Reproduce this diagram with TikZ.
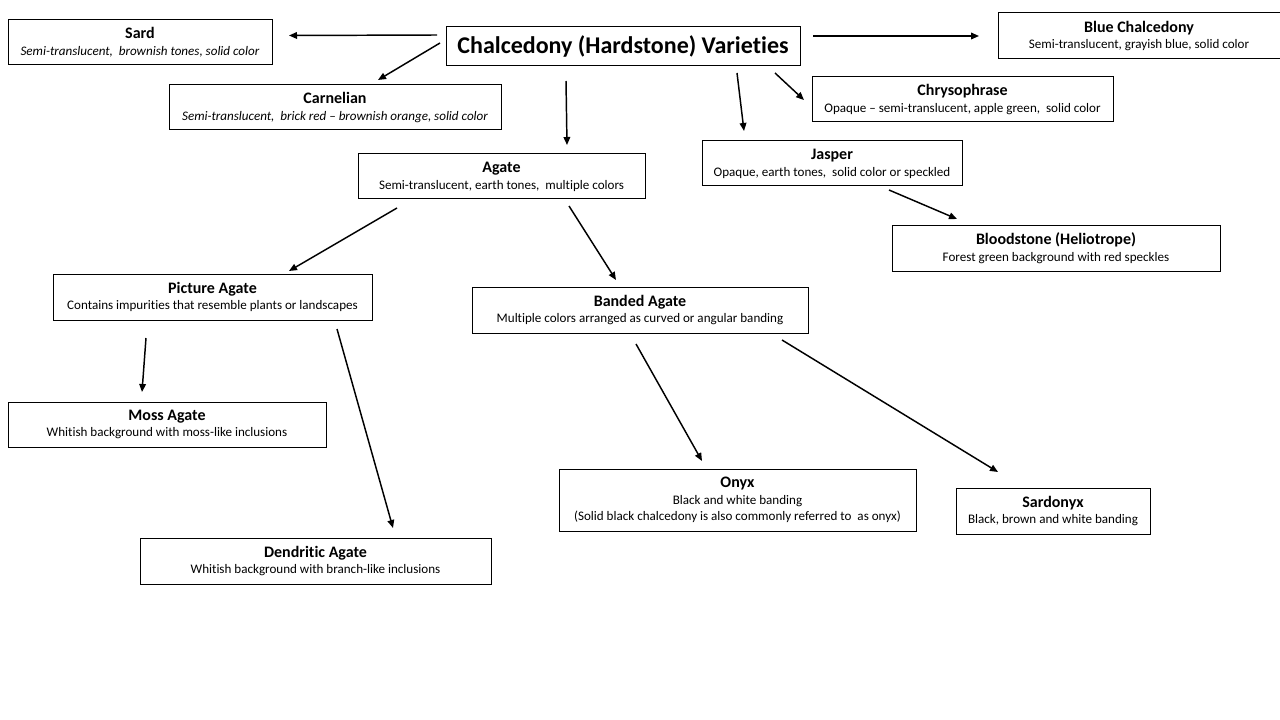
\documentclass[tikz,border=0pt]{standalone}
\usepackage{fontspec}
\setmainfont[Ligatures=NoCommon]{Carlito}
\usetikzlibrary{arrows.meta}
\tikzset{
  box/.style={draw=black, line width=0.75pt, inner sep=0pt, align=center,
    font=\fontsize{9.8}{12.6}\selectfont},
  conn/.style={line width=1.1pt, -{Triangle[length=6pt,width=5pt]}},
}
\newcommand{\bx}[5]{% name, cx, cy, w, h
  \node[box, minimum width=#4*0.75pt, minimum height=#5*0.75pt] (#1) at (#2,#3)}
\newcommand{\nm}[1]{{\fontsize{12}{13}\selectfont\bfseries #1}}
\begin{document}
\begin{tikzpicture}[x=0.75pt,y=-0.75pt]
\useasboundingbox (0,0) rectangle (1280,720);
\fill[white] (0,0) rectangle (1280,720);

\bx{title}{623}{46.5}{354}{39} {\fontsize{18}{21}\selectfont\bfseries Chalcedony (Hardstone) Varieties};
\bx{sard}{140}{42.5}{264}{45} {\nm{Sard}\\\itshape Semi-translucent,\ \ brownish tones, solid color};
\bx{carn}{335}{107.5}{332}{45} {\nm{Carnelian}\\\itshape Semi-translucent,\ \ brick red -- brownish orange, solid color};
\bx{blue}{1139}{36}{282}{46} {\nm{Blue Chalcedony}\\Semi-translucent, grayish blue, solid color};
\bx{chry}{962.5}{99.5}{301}{45} {\nm{Chrysophrase}\\Opaque -- semi-translucent, apple green,\ \ solid color};
\bx{agate}{501.5}{176.5}{287}{45} {\nm{Agate}\\Semi-translucent, earth tones,\ \ multiple colors};
\bx{jasper}{832}{163.5}{260}{45} {\nm{Jasper}\\Opaque, earth tones,\ \ solid color or speckled};
\bx{blood}{1056}{248.5}{328}{45} {\nm{Bloodstone (Heliotrope)}\\Forest green background with red speckles};
\bx{pict}{212.5}{297}{319}{46} {\nm{Picture Agate}\\Contains impurities that resemble plants or landscapes};
\bx{band}{640}{310}{336}{46} {\nm{Banded Agate}\\Multiple colors arranged as curved or angular banding};
\bx{moss}{167}{424.5}{318}{45} {\nm{Moss Agate}\\Whitish background with moss-like inclusions};
\bx{dend}{315.5}{561}{351}{46} {\nm{Dendritic Agate}\\Whitish background with branch-like inclusions};
\bx{onyx}{737.5}{500}{357}{62} {\nm{Onyx}\\Black and white banding\\(Solid black chalcedony is also commonly referred to\ \ as onyx)};
\bx{sardonyx}{1053}{511}{194}{46} {\nm{Sardonyx}\\Black, brown and white banding};

% connector end points (arrows float between boxes)
\coordinate (t-sard) at (437,35);   \coordinate (sard-in) at (289,35.5);
\coordinate (t-carn) at (440,43);   \coordinate (carn-in) at (378,80);
\coordinate (t-agate) at (566,81);  \coordinate (agate-in) at (567,145);
\coordinate (t-blue) at (813,36);   \coordinate (blue-in) at (979,36);
\coordinate (t-jasp) at (737,73);   \coordinate (jasp-in) at (744,131);
\coordinate (t-chry) at (775,73);   \coordinate (chry-in) at (804,100);
\coordinate (j-blood) at (889,190); \coordinate (blood-in) at (957,219);
\coordinate (a-pict) at (397,208);  \coordinate (pict-in) at (289,271);
\coordinate (a-band) at (569,206);  \coordinate (band-in) at (616,280);
\coordinate (p-moss) at (146,338);  \coordinate (moss-in) at (142,392);
\coordinate (p-dend) at (337,329);  \coordinate (dend-in) at (393,528);
\coordinate (b-onyx) at (636,344);  \coordinate (onyx-in) at (702,461);
\coordinate (b-sdx) at (782,340);   \coordinate (sdx-in) at (998,472);

\draw[conn] (t-sard) -- (sard-in);
\draw[conn] (t-carn) -- (carn-in);
\draw[conn] (t-agate) -- (agate-in);
\draw[conn] (t-blue) -- (blue-in);
\draw[conn] (t-jasp) -- (jasp-in);
\draw[conn] (t-chry) -- (chry-in);
\draw[conn] (j-blood) -- (blood-in);
\draw[conn] (a-pict) -- (pict-in);
\draw[conn] (a-band) -- (band-in);
\draw[conn] (p-moss) -- (moss-in);
\draw[conn] (p-dend) -- (dend-in);
\draw[conn] (b-onyx) -- (onyx-in);
\draw[conn] (b-sdx) -- (sdx-in);
\end{tikzpicture}
\end{document}
